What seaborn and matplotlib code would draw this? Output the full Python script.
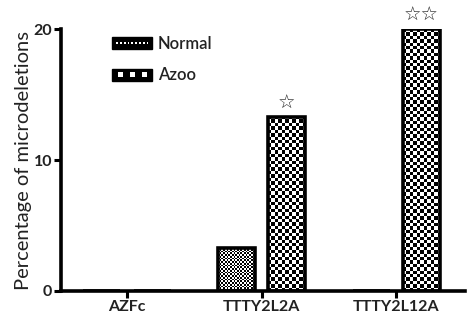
import numpy as np
import pandas as pd
import matplotlib
matplotlib.use("Agg")
import matplotlib.pyplot as plt
import seaborn as sns
from matplotlib.patches import Rectangle
from matplotlib.legend_handler import HandlerBase

categories = ["AZFc", "TTTY2L2A", "TTTY2L12A"]
groups = ["Normal", "Azoo"]
normal_vals = [0.0, 3.3, 0.0]
azoo_vals = [0.0, 13.3, 20.0]
stars = ["", "☆", "☆☆"]
yticks = [0, 10, 20]

df = pd.DataFrame({
    "cat": categories * 2,
    "grp": [groups[0]] * 3 + [groups[1]] * 3,
    "val": normal_vals + azoo_vals,
})

sns.set_theme(style="ticks")
plt.rcParams["font.family"] = ["Lato", "DejaVu Sans"]

fig = plt.figure(figsize=(4.73, 3.24), dpi=100)
ax = fig.add_axes([0.129, 0.102, 0.854, 0.808])

sns.barplot(data=df, x="cat", y="val", hue="grp", order=categories,
            hue_order=groups, width=0.744, gap=0.26, legend=False,
            palette=["white", "white"], edgecolor="black", linewidth=2.6,
            ax=ax, zorder=3)

ax.set_xlim(-0.49, 2.51)
ax.set_ylim(0, 20)
ax.set_yticks(yticks)
ax.set_yticklabels([str(t) for t in yticks], fontweight="bold", fontsize=11.5,
                   color="#222222")
ax.set_xticks(range(len(categories)))
ax.set_xticklabels(categories, fontweight="bold", fontsize=11.5, color="#222222")
ax.set_xlabel("")
ax.set_ylabel("Percentage of microdeletions", fontsize=14.5, labelpad=1,
              color="#222222")
for s in ["top", "right"]:
    ax.spines[s].set_visible(False)
for s in ["left", "bottom"]:
    ax.spines[s].set_linewidth(2.6)
    ax.spines[s].set_color("black")
ax.tick_params(axis="both", length=5, width=2.2, color="black", pad=1.5)


def checker_fill(patch, cell_px):
    x0, y0 = patch.get_x(), patch.get_y()
    w, h = patch.get_width(), patch.get_height()
    if h <= 0:
        return
    (px0, py0), (px1, py1) = ax.transData.transform([(x0, y0), (x0 + w, y0 + h)])
    nx = max(1, int(round(abs(px1 - px0) / cell_px)))
    ny = max(1, int(round(abs(py1 - py0) / cell_px)))
    arr = (np.add.outer(np.arange(ny), np.arange(nx)) % 2).astype(float)
    im = ax.imshow(arr, cmap="gray", extent=(x0, x0 + w, y0, y0 + h),
                   interpolation="nearest", aspect="auto", zorder=2.5,
                   vmin=0, vmax=1)
    im.set_clip_path(patch)


cell_sizes = [1.7, 3.4]
for cont, cs in zip(ax.containers, cell_sizes):
    for p in cont:
        p.set_facecolor("none")
        checker_fill(p, cs)

ax.set_xlim(-0.49, 2.51)
ax.set_ylim(0, 20)

# stars above Azoo bars
for cont in ax.containers[1:]:
    for p, s in zip(cont, stars):
        if s:
            ax.annotate(s, (p.get_x() + p.get_width() / 2, p.get_height()),
                        xytext=(0, 3), textcoords="offset points",
                        ha="center", va="bottom", fontsize=14,
                        family="DejaVu Sans", annotation_clip=False)


class BoxHandler(HandlerBase):
    def __init__(self, kind):
        super().__init__()
        self.kind = kind

    def create_artists(self, legend, orig_handle, xdescent, ydescent,
                       width, height, fontsize, trans):
        arts = [Rectangle((-xdescent, -ydescent), width, height,
                          facecolor="black", edgecolor="black", transform=trans)]
        if self.kind == "normal":
            n = 9
            for i in range(n):
                dx = width * (0.12 + 0.76 * i / (n - 1))
                arts.append(Rectangle((-xdescent + dx - 0.6, -ydescent + height * 0.42),
                                      1.2, height * 0.18, facecolor="white",
                                      edgecolor="none", transform=trans))
        else:
            for i in range(3):
                dx = width * (0.15 + 0.3 * i)
                arts.append(Rectangle((-xdescent + dx, -ydescent + height * 0.28),
                                      width * 0.13, height * 0.44, facecolor="white",
                                      edgecolor="none", transform=trans))
        return arts


h1 = Rectangle((0, 0), 1, 1)
h2 = Rectangle((0, 0), 1, 1)
leg = ax.legend([h1, h2], groups, loc="upper left",
                bbox_to_anchor=(0.098, 1.02), frameon=False,
                handler_map={h1: BoxHandler("normal"), h2: BoxHandler("azoo")},
                handlelength=2.4, handleheight=0.75, labelspacing=0.95,
                handletextpad=0.35, borderpad=0.2,
                prop={"size": 12, "weight": "semibold"})
for t in leg.get_texts():
    t.set_color("#222222")

fig.savefig("out.png", dpi=100)
